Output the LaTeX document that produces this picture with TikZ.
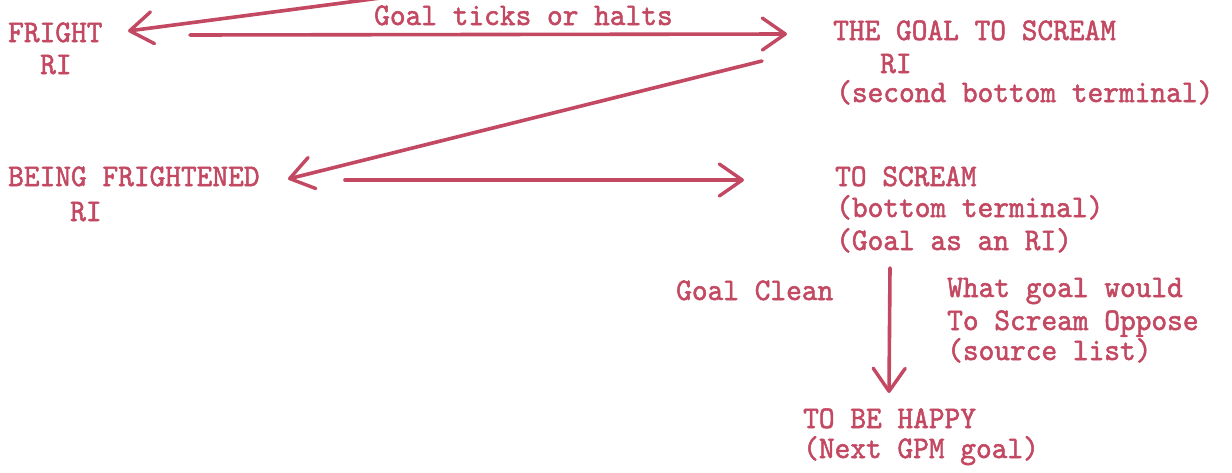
\documentclass[tikz,border=0pt]{standalone}
\usepackage{fontspec}
\setmonofont[FakeStretch=0.95,FakeBold=1.6]{lmmono10-regular.otf}
\usetikzlibrary{arrows.meta}
\definecolor{redink}{RGB}{195,72,98}
\begin{document}
\begin{tikzpicture}[x=1pt,y=-1pt,
  txt/.style={anchor=base west,inner sep=0pt,text=redink,font=\fontsize{31.5}{36}\selectfont\ttfamily},
  arr/.style={draw=redink,line width=3.6pt,line cap=round,
    -{Straight Barb[length=23pt,width=32pt,line width=3.4pt,round]}}]
\fill[white] (0,0) rectangle (1232,472);
\useasboundingbox (0,0) rectangle (1232,472);
% nodes
\node[txt] (fright)  at (8,42)    {FRIGHT};
\node[txt] (frightri) at (40,74)  {RI};
\node[txt] (ticks)   at (374,25)  {Goal ticks or halts};
\node[txt] (goal1)   at (833,40)  {THE GOAL TO SCREAM};
\node[txt] (goal2)   at (880,73)  {RI};
\node[txt] (goal3)   at (836,102) {(second bottom terminal)};
\node[txt] (being1)  at (8,186)   {BEING FRIGHTENED};
\node[txt] (being2)  at (70,221)  {RI};
\node[txt] (scream1) at (835,186) {TO SCREAM};
\node[txt] (scream2) at (836,217) {(bottom terminal)};
\node[txt] (scream3) at (836,250) {(Goal as an RI)};
\node[txt] (clean)   at (676,300) {Goal Clean};
\node[txt] (what1)   at (947,297) {What goal would};
\node[txt] (what2)   at (947,330) {To Scream Oppose};
\node[txt] (what3)   at (947,360) {(source list)};
\node[txt] (happy1)  at (803,428) {TO BE HAPPY};
\node[txt] (happy2)  at (803,458) {(Next GPM goal)};
% arrow end points
\coordinate (a1s) at (388,-3);
\coordinate (a1t) at (128,31);
\coordinate (a2s) at (190,35);
\coordinate (a2t) at (787,34);
\coordinate (a3s) at (762,61);
\coordinate (a3t) at (288,179);
\coordinate (a4s) at (345,180);
\coordinate (a4t) at (744,180);
\coordinate (a5s) at (890,268);
\coordinate (a5t) at (889,393);
% connectors
\draw[arr] (a1s) -- (a1t);
\draw[arr] (a2s) -- (a2t);
\draw[arr] (a3s) -- (a3t);
\draw[arr] (a4s) -- (a4t);
\draw[arr] (a5s) -- (a5t);
\end{tikzpicture}
\end{document}
